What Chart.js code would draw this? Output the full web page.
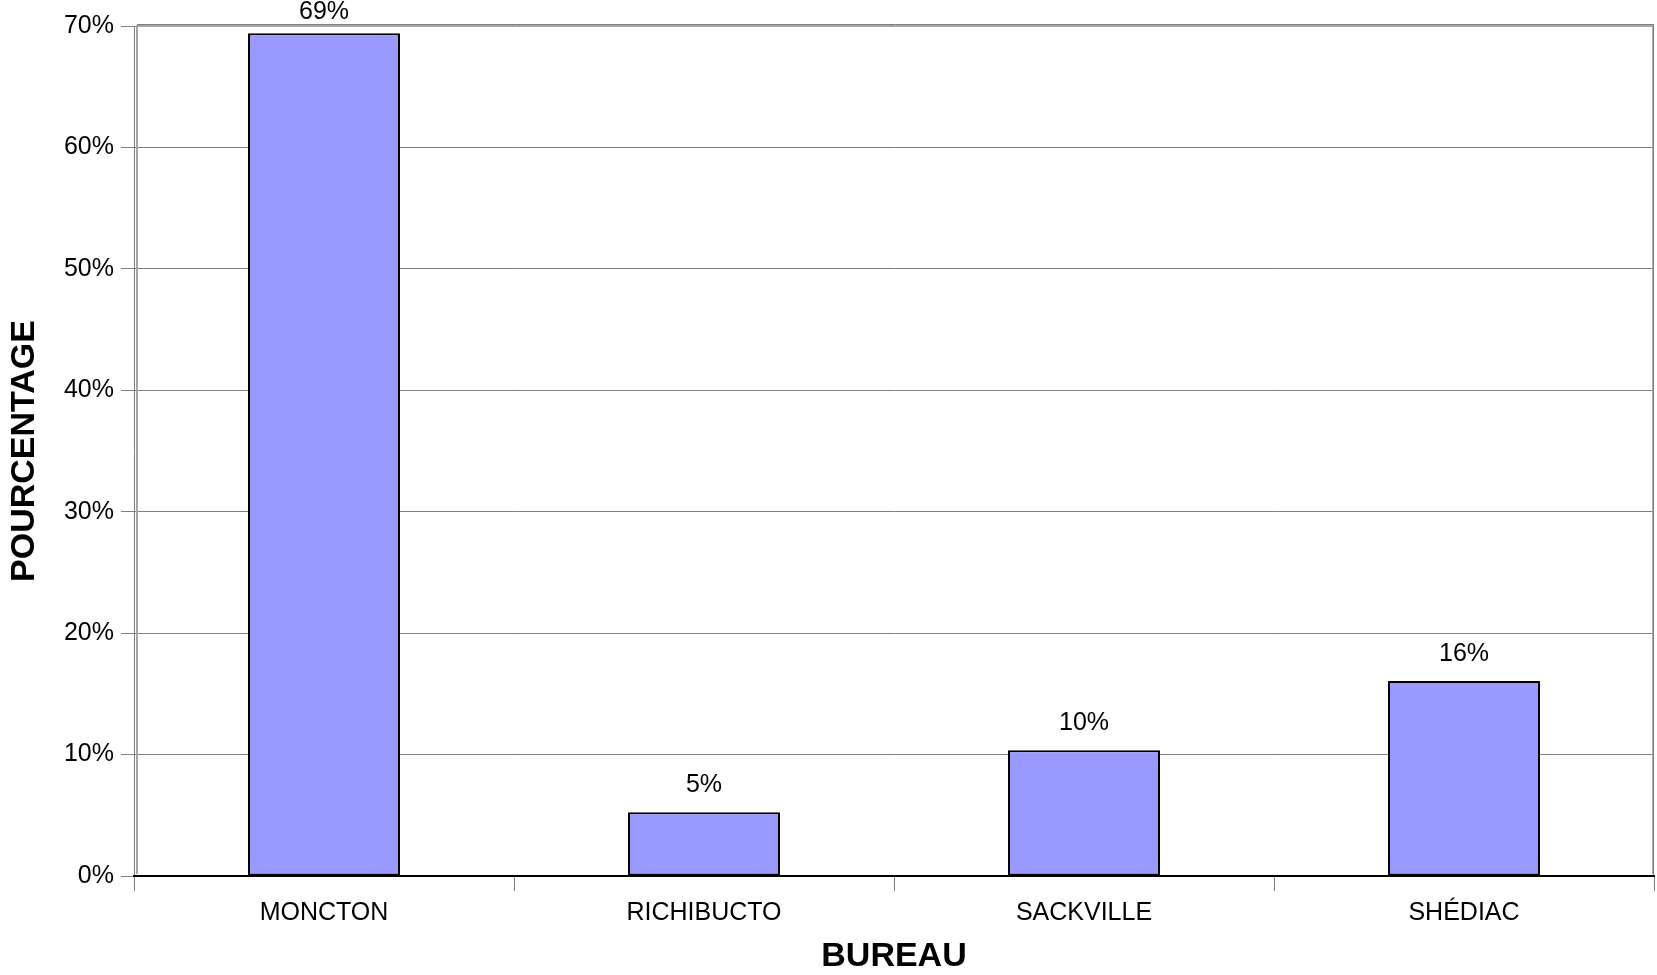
<!DOCTYPE html>
<html>
<head>
<meta charset="utf-8">
<script src="https://cdn.jsdelivr.net/npm/chart.js@4/dist/chart.umd.min.js"></script>
<style>
  html, body { margin: 0; padding: 0; background: #ffffff; }
  #wrap { width: 1657px; height: 975px; position: relative; }
</style>
</head>
<body>
<div id="wrap"><canvas id="chart"></canvas></div>
<script>
// Répartition par bureau
const bureaux = ['MONCTON', 'RICHIBUCTO', 'SACKVILLE', 'SHÉDIAC'];
const pourcentages = [69.4, 5.25, 10.35, 16.05];
const yTicks = [0, 10, 20, 30, 40, 50, 60, 70];

const FONT = '"Liberation Sans", Arial, sans-serif';

// Plot frame (top, left and right edges) drawn around the chart area
const framePlugin = {
  id: 'frame',
  beforeDatasetsDraw(chart) {
    const { ctx, chartArea: a } = chart;
    ctx.save();
    ctx.strokeStyle = '#a6a6a6';
    ctx.lineWidth = 2;
    ctx.beginPath();
    ctx.moveTo(a.left + 3, a.bottom - 2);
    ctx.lineTo(a.left + 3, a.top);
    ctx.lineTo(a.right - 1, a.top);
    ctx.lineTo(a.right - 1, a.bottom - 2);
    ctx.stroke();
    ctx.strokeStyle = '#808080';
    ctx.lineWidth = 1;
    ctx.beginPath();
    ctx.moveTo(a.left + 3, a.top - 1.5);
    ctx.lineTo(a.right, a.top - 1.5);
    ctx.moveTo(a.right - 0.5, a.top);
    ctx.lineTo(a.right - 0.5, a.bottom);
    ctx.stroke();
    ctx.restore();
  }
};

// Percentage labels above each bar, kept inside the canvas
const valueLabels = {
  id: 'valueLabels',
  afterDatasetsDraw(chart) {
    const { ctx } = chart;
    const meta = chart.getDatasetMeta(0);
    const data = chart.data.datasets[0].data;
    ctx.save();
    ctx.fillStyle = '#000000';
    ctx.font = '25px ' + FONT;
    ctx.textAlign = 'center';
    ctx.textBaseline = 'middle';
    meta.data.forEach((bar, i) => {
      const y = Math.max(bar.y - 27, 12);
      ctx.fillText(Math.round(data[i]) + '%', bar.x, y);
    });
    ctx.restore();
  }
};

new Chart(document.getElementById('chart'), {
  type: 'bar',
  data: {
    labels: bureaux,
    datasets: [{
      data: pourcentages,
      backgroundColor: '#9999ff',
      borderColor: '#000000',
      borderWidth: 2,
      borderSkipped: false,
      barPercentage: 0.4,
      categoryPercentage: 1.0
    }]
  },
  options: {
    responsive: true,
    maintainAspectRatio: false,
    animation: false,
    layout: { padding: { top: 26, right: 3, left: 0, bottom: 0 } },
    plugins: {
      legend: { display: false },
      tooltip: { enabled: false }
    },
    scales: {
      x: {
        offset: true,
        grid: {
          offset: true,
          drawOnChartArea: false,
          drawTicks: true,
          tickLength: 15,
          color: '#808080',
          lineWidth: 1
        },
        border: { display: true, color: '#000000', width: 2, z: 1 },
        ticks: {
          color: '#000000',
          font: { family: FONT, size: 25 },
          padding: 7,
          maxRotation: 0,
          autoSkip: false
        },
        title: {
          display: true,
          text: 'BUREAU',
          color: '#000000',
          font: { family: FONT, size: 34, weight: 'bold' },
          padding: { top: 0, bottom: -2 }
        },
        afterFit(scale) { scale.height = 99; }
      },
      y: {
        min: 0,
        max: 70,
        afterBuildTicks(scale) { scale.ticks = yTicks.map(v => ({ value: v })); },
        grid: {
          color: '#808080',
          lineWidth: 1,
          drawTicks: true,
          tickLength: 13
        },
        border: { display: true, color: '#808080', width: 1 },
        ticks: {
          color: '#000000',
          font: { family: FONT, size: 25 },
          padding: 7,
          callback: (v) => v + '%'
        },
        title: {
          display: true,
          text: 'POURCENTAGE',
          color: '#000000',
          font: { family: FONT, size: 34, weight: 'bold' },
          padding: { top: 4, bottom: 0 }
        },
        afterFit(scale) { scale.width = 134; }
      }
    }
  },
  plugins: [framePlugin, valueLabels]
});
</script>
</body>
</html>
